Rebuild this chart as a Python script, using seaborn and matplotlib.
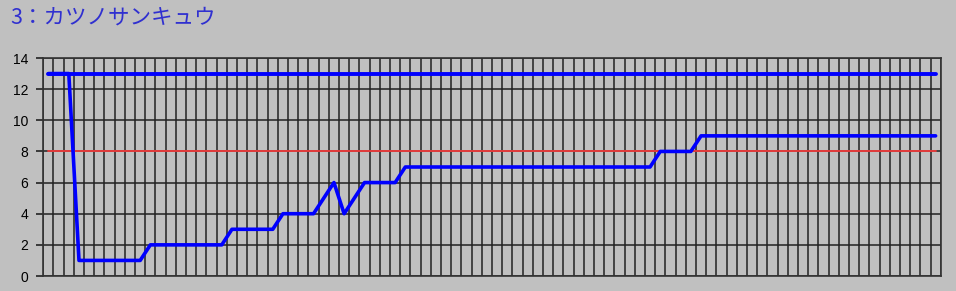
import numpy as np
import pandas as pd
import matplotlib
matplotlib.use("Agg")
import matplotlib.pyplot as plt
import seaborn as sns

title = "3：カツノサンキュウ"
race_points = list(range(88))
field_size = [13] * 88
position = [13, 13, 13,
            1, 1, 1, 1, 1, 1, 1,
            2, 2, 2, 2, 2, 2, 2, 2,
            3, 3, 3, 3, 3,
            4, 4, 4, 4,
            5, 6, 4, 5,
            6, 6, 6, 6,
            7, 7, 7, 7, 7, 7, 7, 7, 7, 7, 7, 7, 7, 7, 7, 7, 7, 7, 7, 7, 7, 7, 7, 7, 7,
            8, 8, 8, 8,
            9, 9, 9, 9, 9, 9, 9, 9, 9, 9, 9, 9, 9, 9, 9, 9, 9, 9, 9, 9, 9, 9, 9, 9]
reference_line = [8] * 88
y_ticks = [0, 2, 4, 6, 8, 10, 12, 14]

sns.set_theme(style="white")
plt.rcParams['font.family'] = ['Liberation Sans', 'DejaVu Sans']

df = pd.DataFrame({"x": race_points, "field": field_size,
                   "pos": position, "ref": reference_line})

bg = "#c0c0c0"
fig = plt.figure(figsize=(9.56, 2.91), dpi=100, facecolor=bg)
ax = fig.add_axes([43.3 / 956, 1 - 276 / 291, (940.7 - 43.3) / 956, (276 - 58) / 291])
ax.set_facecolor(bg)

sns.lineplot(data=df, x="x", y="ref", ax=ax, color="#f03c3c", linewidth=1.3, zorder=3)
sns.lineplot(data=df, x="x", y="field", ax=ax, color="#0000ff", linewidth=2.8, zorder=4)
sns.lineplot(data=df, x="x", y="pos", ax=ax, color="#0000ff", linewidth=2.6, zorder=5)

ax.set_xlim(-0.5, 87.5)
ax.set_ylim(0, 14)
ax.set_xticks(np.arange(-0.5, 88, 1))
ax.set_xticklabels([])
ax.set_yticks(y_ticks)
ax.set_yticklabels([str(v) for v in y_ticks])
ax.set_xlabel("")
ax.set_ylabel("")
ax.grid(True, color="#222222", linewidth=1.1, zorder=1)
ax.set_axisbelow(True)
ax.tick_params(axis="x", length=0)
ax.tick_params(axis="y", length=5, width=1.2, color="#222222", pad=6,
               labelsize=10, labelcolor="black", left=True)
for s in ax.spines.values():
    s.set_color("#333333")
    s.set_linewidth(1.2)

fig.text(10 / 956, 1 - 7 / 291, title, color="#3030d0", fontsize=15.5,
         va="top", ha="left", family=["Noto Sans CJK JP", "DejaVu Sans"])

fig.savefig("out.png", dpi=100, facecolor=bg)
